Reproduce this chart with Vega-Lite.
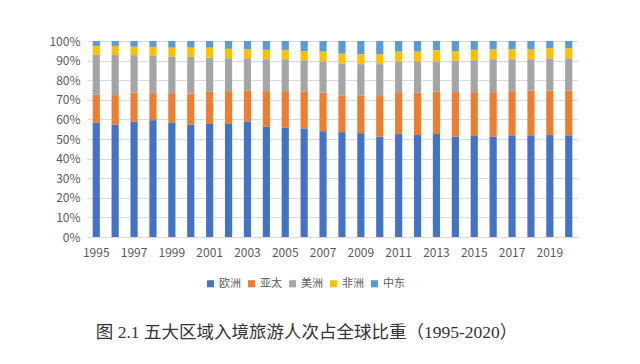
{
  "$schema": "https://vega.github.io/schema/vega-lite/v6.json",
  "autosize": {"type": "none"},
  "padding": {"left": 87, "top": 41, "right": 62, "bottom": 127},
  "width": 491,
  "height": 196,
  "background": "white",
  "config": {
    "view": {"stroke": null},
    "font": "Noto Sans CJK SC"
  },
  "title": {
    "text": "图 2.1  五大区域入境旅游人次占全球比重（1995-2020）",
    "orient": "bottom",
    "anchor": "middle",
    "font": "Liberation Serif, Noto Sans CJK SC",
    "fontSize": 17.5,
    "fontWeight": "normal",
    "color": "#333333",
    "offset": 35,
    "dx": -26
  },
  "data": {
    "values": [
      {"year": "1995", "欧洲": 58.2, "亚太": 14.5, "美洲": 20.2, "非洲": 4.6, "中东": 2.5},
      {"year": "1996", "欧洲": 57.4, "亚太": 15.0, "美洲": 20.5, "非洲": 4.6, "中东": 2.5},
      {"year": "1997", "欧洲": 58.9, "亚太": 14.8, "美洲": 19.1, "非洲": 4.3, "中东": 2.9},
      {"year": "1998", "欧洲": 59.6, "亚太": 13.8, "美洲": 19.0, "非洲": 4.6, "中东": 3.0},
      {"year": "1999", "欧洲": 58.4, "亚太": 15.0, "美洲": 18.7, "非洲": 4.5, "中东": 3.4},
      {"year": "2000", "欧洲": 57.4, "亚太": 15.7, "美洲": 18.8, "非洲": 4.7, "中东": 3.4},
      {"year": "2001", "欧洲": 57.7, "亚太": 16.4, "美洲": 17.5, "非洲": 5.0, "中东": 3.4},
      {"year": "2002", "欧洲": 57.7, "亚太": 16.7, "美洲": 16.8, "非洲": 4.8, "中东": 4.0},
      {"year": "2003", "欧洲": 58.9, "亚太": 15.8, "美洲": 16.5, "非洲": 4.6, "中东": 4.2},
      {"year": "2004", "欧洲": 56.2, "亚太": 18.2, "美洲": 16.3, "非洲": 4.8, "中东": 4.5},
      {"year": "2005", "欧洲": 55.7, "亚太": 18.7, "美洲": 16.3, "非洲": 4.8, "中东": 4.5},
      {"year": "2006", "欧洲": 55.4, "亚太": 18.8, "美洲": 16.0, "非洲": 4.7, "中东": 5.1},
      {"year": "2007", "欧洲": 54.0, "亚太": 19.7, "美洲": 15.9, "非洲": 5.0, "中东": 5.4},
      {"year": "2008", "欧洲": 53.5, "亚太": 18.7, "美洲": 16.4, "非洲": 5.0, "中东": 6.4},
      {"year": "2009", "欧洲": 53.0, "亚太": 19.2, "美洲": 16.0, "非洲": 5.1, "中东": 6.7},
      {"year": "2010", "欧洲": 51.2, "亚太": 20.7, "美洲": 16.3, "非洲": 5.1, "中东": 6.7},
      {"year": "2011", "欧洲": 52.5, "亚太": 21.4, "美洲": 15.7, "非洲": 5.0, "中东": 5.4},
      {"year": "2012", "欧洲": 52.0, "亚太": 21.7, "美洲": 15.9, "非洲": 5.0, "中东": 5.4},
      {"year": "2013", "欧洲": 52.5, "亚太": 21.7, "美洲": 15.4, "非洲": 5.7, "中东": 4.7},
      {"year": "2014", "欧洲": 51.2, "亚太": 22.7, "美洲": 16.0, "非洲": 5.0, "中东": 5.1},
      {"year": "2015", "欧洲": 51.5, "亚太": 22.4, "美洲": 16.3, "非洲": 5.3, "中东": 4.5},
      {"year": "2016", "欧洲": 51.2, "亚太": 22.7, "美洲": 16.8, "非洲": 5.1, "中东": 4.2},
      {"year": "2017", "欧洲": 51.9, "亚太": 22.5, "美洲": 16.3, "非洲": 5.1, "中东": 4.2},
      {"year": "2018", "欧洲": 51.9, "亚太": 22.8, "美洲": 16.0, "非洲": 5.1, "中东": 4.2},
      {"year": "2019", "欧洲": 52.0, "亚太": 22.7, "美洲": 16.5, "非洲": 5.1, "中东": 3.7},
      {"year": "2020", "欧洲": 51.9, "亚太": 22.8, "美洲": 16.5, "非洲": 5.1, "中东": 3.7}
    ]
  },
  "transform": [
    {"fold": ["欧洲", "亚太", "美洲", "非洲", "中东"], "as": ["region", "share"]}
  ],
  "mark": {"type": "bar"},
  "encoding": {
    "x": {
      "field": "year",
      "type": "ordinal",
      "scale": {"paddingInner": 0.62, "paddingOuter": 0.3},
      "axis": {
        "title": null,
        "labelAngle": 0,
        "labelExpr": "toNumber(datum.value) % 2 == 1 ? datum.value : ''",
        "labelFontSize": 12,
        "labelColor": "#595959",
        "labelPadding": 10,
        "ticks": false,
        "domainColor": "#D9D9D9",
        "grid": false
      }
    },
    "y": {
      "field": "share",
      "type": "quantitative",
      "stack": "normalize",
      "scale": {"domain": [0, 1], "nice": false},
      "axis": {
        "title": null,
        "format": ".0%",
        "values": [0, 0.1, 0.2, 0.3, 0.4, 0.5, 0.6, 0.7, 0.8, 0.9, 1.0],
        "labelFontSize": 12,
        "labelColor": "#595959",
        "labelPadding": 7,
        "ticks": false,
        "domain": false,
        "grid": true,
        "gridColor": "#D9D9D9",
        "gridWidth": 1
      }
    },
    "color": {
      "field": "region",
      "type": "nominal",
      "sort": ["欧洲", "亚太", "美洲", "非洲", "中东"],
      "scale": {
        "domain": ["欧洲", "亚太", "美洲", "非洲", "中东"],
        "range": ["#4472C4", "#ED7D31", "#A5A5A5", "#FFC000", "#5B9BD5"]
      },
      "legend": {
        "title": null,
        "orient": "none",
        "direction": "horizontal",
        "legendX": 118,
        "legendY": 237,
        "symbolType": "square",
        "symbolSize": 50,
        "symbolStrokeWidth": 0,
        "labelFontSize": 11,
        "labelColor": "#595959",
        "labelOffset": 3,
        "columnPadding": 5
      }
    },
    "order": {"field": "region_order"}
  }
}
